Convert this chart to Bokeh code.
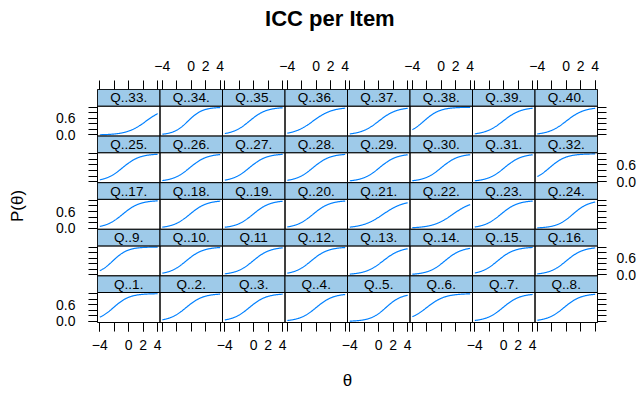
import numpy as np
from bokeh.plotting import figure
from bokeh.models import (Range1d, FixedTicker, LinearAxis, Label, ColumnDataSource,
                          CustomJSTickFormatter)
from bokeh.core.properties import value
from bokeh.layouts import column
from bokeh.embed import file_html
from bokeh.resources import INLINE

# ---------------- data ----------------
item_labels = ["Q..1.", "Q..2.", "Q..3.", "Q..4.", "Q..5.", "Q..6.", "Q..7.", "Q..8.",
               "Q..9.", "Q..10.", "Q.11", "Q..12.", "Q..13.", "Q..14.", "Q..15.", "Q..16.",
               "Q..17.", "Q..18.", "Q..19.", "Q..20.", "Q..21.", "Q..22.", "Q..23.", "Q..24.",
               "Q..25.", "Q..26.", "Q..27.", "Q..28.", "Q..29.", "Q..30.", "Q..31.", "Q..32.",
               "Q..33.", "Q..34.", "Q..35.", "Q..36.", "Q..37.", "Q..38.", "Q..39.", "Q..40."]
# item discrimination (a) and difficulty (b) estimated from each curve
discrimination = [0.90, 0.85, 0.85, 0.85, 0.92, 0.80, 0.85, 0.85,
                  0.97, 0.85, 0.85, 0.85, 0.80, 0.85, 0.85, 0.85,
                  0.85, 0.85, 0.85, 0.85, 0.70, 0.72, 0.85, 0.89,
                  0.85, 0.85, 0.85, 0.85, 0.85, 0.85, 0.85, 0.88,
                  0.75, 1.00, 0.85, 0.75, 0.80, 0.90, 0.80, 0.80]
difficulty = [-2.1, -0.7, -0.6, 0.0, 1.0, -2.0, -0.1, -0.3,
              -2.2, -0.7, -0.1, -0.7, 0.6, 0.5, -0.85, 0.0,
              -0.85, -0.2, -0.1, -0.45, 0.6, 1.6, -0.4, 0.9,
              -0.85, -0.2, -0.6, -0.45, 0.1, 0.0, 0.1, -2.3,
              2.4, -0.45, -0.6, -0.45, 0.0, -2.4, -0.1, 0.0]
theta_min, theta_max = -4.0, 4.0
x_tick_values = [-4, -2, 0, 2, 4]
x_label_values = [-4, 0, 2, 4]
y_tick_values = [0.0, 0.2, 0.4, 0.6, 0.8, 1.0]
y_label_values = [0.0, 0.6]

# ---------------- style / layout ----------------
FONT = "Liberation Sans"
LINE_COL = "#0080ff"
STRIP_COL = "#9ecae9"
NCOL, NROW = 8, 5
XPAD = 0.04 * (theta_max - theta_min)
W = (theta_max - theta_min) + 2 * XPAD          # panel width in x units
YPAD = 0.04
D = 1.0 + 2 * YPAD                                # data-part height in y units
DATA_PX, STRIP_PX = 30.0, 16.6
S = D * STRIP_PX / DATA_PX                        # strip height in y units
R = D + S                                         # row height in y units

FRAME_W, FRAME_H = 500, 233
LEFT_B, RIGHT_B, TOP_B, BOT_B = 97, 42, 53, 70
TITLE_H = 36
TOTAL_W = LEFT_B + FRAME_W + RIGHT_B

theta = np.linspace(theta_min, theta_max, 161)

p = figure(frame_width=FRAME_W, frame_height=FRAME_H,
           x_range=Range1d(0, NCOL * W), y_range=Range1d(0, NROW * R),
           toolbar_location=None, output_backend="svg",
           x_axis_location=None, y_axis_location=None,
           min_border_left=LEFT_B, min_border_right=RIGHT_B,
           min_border_top=TOP_B, min_border_bottom=BOT_B,
           background_fill_color="white", border_fill_color="white",
           outline_line_color="black", outline_line_width=1)
p.grid.visible = False

# panels: row index counted from bottom (items 1-8 at the bottom)
strip_src = dict(left=[], right=[], bottom=[], top=[], tx=[], ty=[], label=[])
box_src = dict(left=[], right=[], bottom=[], top=[])
for k, lab in enumerate(item_labels):
    c, rb = k % NCOL, k // NCOL
    a, b = discrimination[k], difficulty[k]
    prob = 1.0 / (1.0 + np.exp(-a * (theta - b)))
    src = ColumnDataSource(dict(x=c * W + (theta - theta_min + XPAD),
                                y=rb * R + (prob + YPAD)))
    p.line("x", "y", source=src, line_color=LINE_COL, line_width=1.2)
    box_src["left"].append(c * W)
    box_src["right"].append((c + 1) * W)
    box_src["bottom"].append(rb * R)
    box_src["top"].append(rb * R + D)
    strip_src["left"].append(c * W)
    strip_src["right"].append((c + 1) * W)
    strip_src["bottom"].append(rb * R + D)
    strip_src["top"].append((rb + 1) * R)
    strip_src["tx"].append(c * W + W / 2)
    strip_src["ty"].append(rb * R + D + S / 2)
    strip_src["label"].append(lab)

p.quad(left="left", right="right", bottom="bottom", top="top",
       source=ColumnDataSource(box_src), fill_color=None,
       line_color="black", line_width=1)
ssrc = ColumnDataSource(strip_src)
p.quad(left="left", right="right", bottom="bottom", top="top", source=ssrc,
       fill_color=STRIP_COL, line_color="black", line_width=1)
p.text(x="tx", y="ty", text="label", source=ssrc, text_align="center",
       text_baseline="middle", text_font=value(FONT), text_font_size="13.5px",
       text_color="black")

# ---------------- axes ----------------
def x_pos(c, t):
    return c * W + (t - theta_min + XPAD)


def y_pos(rb, v):
    return rb * R + (v + YPAD)


x_minor = [x_pos(c, t) for c in range(NCOL) for t in x_tick_values]
y_minor = [y_pos(rb, v) for rb in range(NROW) for v in y_tick_values]

x_fmt = CustomJSTickFormatter(args=dict(W=W, OFF=-theta_min + XPAD), code="""
    const c = Math.floor(tick / W);
    const t = Math.round(tick - c * W - OFF);
    return t < 0 ? "\u2212" + Math.abs(t) : String(t);
""")
y_fmt = CustomJSTickFormatter(args=dict(R=R, PAD=YPAD), code="""
    const r = Math.floor(tick / R);
    const v = tick - r * R - PAD;
    return Math.abs(v) < 1e-9 ? "0.0" : v.toFixed(1);
""")


def style_axis(ax, standoff):
    ax.axis_line_color = None
    ax.major_tick_in = 0
    ax.major_tick_out = 9
    ax.minor_tick_in = 0
    ax.minor_tick_out = 9
    ax.major_tick_line_color = "black"
    ax.minor_tick_line_color = "black"
    ax.major_label_text_font = FONT
    ax.major_label_text_font_size = "14px"
    ax.major_label_text_color = "black"
    ax.major_label_standoff = standoff
    ax.axis_label_text_font = FONT
    ax.axis_label_text_font_size = "17px"
    ax.axis_label_text_font_style = "normal"
    ax.axis_label_text_color = "black"


bottom_ax = LinearAxis(ticker=FixedTicker(
    ticks=[x_pos(c, t) for c in range(0, NCOL, 2) for t in x_label_values],
    minor_ticks=x_minor), formatter=x_fmt, axis_label="θ")
style_axis(bottom_ax, 8)
bottom_ax.axis_label_standoff = 18
p.add_layout(bottom_ax, "below")

top_ax = LinearAxis(ticker=FixedTicker(
    ticks=[x_pos(c, t) for c in range(1, NCOL, 2) for t in x_label_values],
    minor_ticks=x_minor), formatter=x_fmt)
style_axis(top_ax, 10)
p.add_layout(top_ax, "above")

left_ax = LinearAxis(ticker=FixedTicker(
    ticks=[y_pos(rb, v) for rb in range(0, NROW, 2) for v in y_label_values],
    minor_ticks=y_minor), formatter=y_fmt, axis_label="P(θ)")
style_axis(left_ax, 13)
left_ax.axis_label_standoff = 26
p.add_layout(left_ax, "left")

right_ax = LinearAxis(ticker=FixedTicker(
    ticks=[y_pos(rb, v) for rb in range(1, NROW, 2) for v in y_label_values],
    minor_ticks=y_minor), formatter=y_fmt)
style_axis(right_ax, 10)
p.add_layout(right_ax, "right")

# ---------------- main title ----------------
tf = figure(width=TOTAL_W, height=TITLE_H, x_range=Range1d(0, TOTAL_W),
            y_range=Range1d(0, TITLE_H), toolbar_location=None, output_backend="svg",
            x_axis_location=None, y_axis_location=None, min_border=0,
            outline_line_color=None)
tf.grid.visible = False
tf.add_layout(Label(x=297, y=TITLE_H - 18, text="ICC per Item", text_align="center",
                    text_baseline="middle", text_font=FONT,
                    text_font_size="22px", text_font_style="bold", text_color="black"))

layout = column(tf, p, spacing=0)
open("out.html", "w").write(file_html(layout, INLINE))
